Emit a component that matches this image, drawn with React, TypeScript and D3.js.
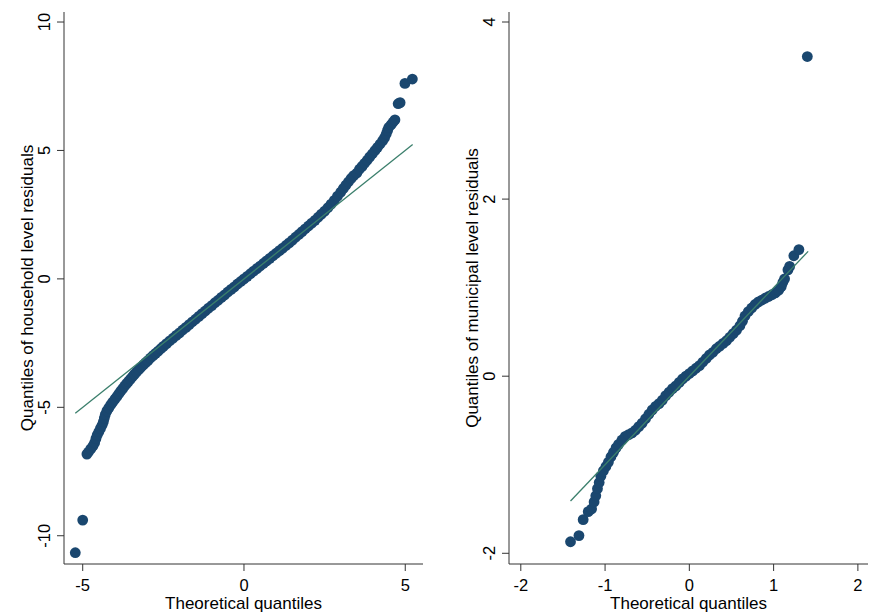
import { useRef, useEffect } from "react";
import * as d3 from "d3";

// household-level residuals: theoretical quantile vs residual quantile
const hhTheo = [
  -5.23, -5.0, -4.87, -4.82, -4.75, -4.68, -4.63, -4.59, -4.55, -4.5, -4.45, -4.4, -4.36, -4.33, -4.3,
  -4.25, -4.19, -4.13, -4.07, -4.0, -3.94, -3.88, -3.82, -3.76, -3.7, -3.64, -3.58, -3.52, -3.46, -3.4,
  -3.33, -3.26, -3.19, -3.12, -3.05, -2.98, -2.9, -2.82, -2.74, -2.66, -2.58, -2.5, -2.4, -2.3, -2.2,
  -2.1, -2.0, -1.9, -1.8, -1.7, -1.6, -1.5, -1.4, -1.3, -1.2, -1.1, -1.0, -0.9, -0.8, -0.7,
  -0.6, -0.5, -0.4, -0.3, -0.2, -0.1, 0.0, 0.1, 0.2, 0.3, 0.4, 0.5, 0.6, 0.7, 0.8,
  0.9, 1.0, 1.1, 1.2, 1.3, 1.4, 1.5, 1.6, 1.7, 1.8, 1.9, 2.0, 2.1, 2.2, 2.3,
  2.4, 2.5, 2.6, 2.7, 2.8, 2.9, 3.0, 3.08, 3.16, 3.24, 3.32, 3.4, 3.5, 3.58, 3.66,
  3.74, 3.82, 3.9, 3.98, 4.06, 4.14, 4.22, 4.3, 4.36, 4.41, 4.45, 4.49, 4.56, 4.62, 4.68,
  4.78, 4.84, 4.99, 5.22,
];
const hhResid = [
  -10.66, -9.39, -6.82, -6.74, -6.62, -6.5, -6.38, -6.22, -6.08, -5.95, -5.82, -5.7, -5.56, -5.42, -5.28,
  -5.14, -5.02, -4.9, -4.8, -4.68, -4.58, -4.47, -4.37, -4.27, -4.17, -4.08, -3.99, -3.9, -3.81, -3.72,
  -3.62, -3.53, -3.44, -3.35, -3.26, -3.18, -3.08, -2.99, -2.9, -2.81, -2.72, -2.63, -2.52, -2.41, -2.31,
  -2.2, -2.1, -1.99, -1.89, -1.78, -1.67, -1.57, -1.46, -1.35, -1.25, -1.14, -1.04, -0.93, -0.83, -0.72,
  -0.62, -0.51, -0.41, -0.31, -0.2, -0.1, 0.0, 0.1, 0.2, 0.3, 0.4, 0.5, 0.6, 0.7, 0.8,
  0.9, 1.0, 1.1, 1.2, 1.3, 1.4, 1.51, 1.62, 1.73, 1.84, 1.95, 2.06, 2.17, 2.28, 2.4,
  2.52, 2.64, 2.77, 2.91, 3.06, 3.22, 3.38, 3.52, 3.65, 3.78, 3.91, 4.02, 4.12, 4.27, 4.38,
  4.5, 4.62, 4.75, 4.87, 5.0, 5.12, 5.25, 5.38, 5.5, 5.64, 5.78, 5.9, 6.0, 6.1, 6.19,
  6.82, 6.86, 7.61, 7.78,
];

// municipal-level residuals
const muTheo = [
  -1.41, -1.31, -1.26, -1.2, -1.16, -1.13, -1.11, -1.09, -1.07, -1.05, -1.02, -0.99, -0.96, -0.93, -0.9,
  -0.87, -0.84, -0.8, -0.76, -0.72, -0.68, -0.64, -0.6, -0.56, -0.52, -0.48, -0.44, -0.4, -0.36, -0.32,
  -0.28, -0.24, -0.2, -0.16, -0.12, -0.08, -0.04, 0.0, 0.04, 0.08, 0.12, 0.16, 0.2, 0.24, 0.28,
  0.32, 0.36, 0.4, 0.44, 0.48, 0.52, 0.56, 0.6, 0.63, 0.66, 0.7, 0.74, 0.78, 0.82, 0.86,
  0.9, 0.94, 0.98, 1.02, 1.06, 1.09, 1.11, 1.13, 1.17, 1.19, 1.24, 1.3, 1.4,
];
const muResid = [
  -1.87, -1.8, -1.62, -1.53, -1.5, -1.42, -1.35, -1.27, -1.2, -1.13, -1.07, -1.02, -0.97, -0.91, -0.86,
  -0.81, -0.77, -0.72, -0.68, -0.66, -0.64, -0.61, -0.57, -0.53, -0.48, -0.43, -0.38, -0.34, -0.31, -0.27,
  -0.22, -0.18, -0.14, -0.11, -0.07, -0.03, 0.0, 0.03, 0.06, 0.09, 0.12, 0.16, 0.2, 0.24, 0.27,
  0.31, 0.34, 0.37, 0.4, 0.44, 0.48, 0.52, 0.57, 0.62, 0.68, 0.73, 0.77, 0.81, 0.84, 0.86,
  0.88, 0.9, 0.92, 0.94, 0.97, 1.01, 1.06, 1.1, 1.2, 1.24, 1.36, 1.43, 3.61,
];

const hhXTicks = [-5, 0, 5];
const hhYTicks = [-10, -5, 0, 5, 10];
const muXTicks = [-2, -1, 0, 1, 2];
const muYTicks = [-2, 0, 2, 4];

const hhRefLine = [-5.23, 5.23];
const muRefLine = [-1.41, 1.41];

const FONT = "'Liberation Sans', Arial, sans-serif";
const MARKER = "#1a476f";
const REFLINE = "#3b7f6c";

interface PanelProps {
  xs: number[];
  ys: number[];
  xDomain: [number, number];
  yDomain: [number, number];
  xTicks: number[];
  yTicks: number[];
  ref45: number[];
  left: number;
  yTitle: string;
}

const top = 12;
const bottom = 564;
const plotW = 359;

function drawPanel(g: d3.Selection<SVGGElement, unknown, null, undefined>, p: PanelProps) {
  const x = d3.scaleLinear().domain(p.xDomain).range([p.left, p.left + plotW]);
  const y = d3.scaleLinear().domain(p.yDomain).range([bottom, top]);

  const pts = p.xs.map((v, i) => [v, p.ys[i]] as [number, number]);

  g.append("g")
    .selectAll("circle")
    .data(pts)
    .enter()
    .append("circle")
    .attr("cx", (d) => x(d[0]))
    .attr("cy", (d) => y(d[1]))
    .attr("r", 5.4)
    .attr("fill", MARKER);

  // reference line y = x
  g.append("line")
    .attr("x1", x(p.ref45[0]))
    .attr("y1", y(p.ref45[0]))
    .attr("x2", x(p.ref45[1]))
    .attr("y2", y(p.ref45[1]))
    .attr("stroke", REFLINE)
    .attr("stroke-width", 1.3);

  // axes
  const ax = g.append("g").attr("stroke", "#333").attr("stroke-width", 1);
  ax.append("line").attr("x1", p.left).attr("x2", p.left).attr("y1", top).attr("y2", bottom);
  ax.append("line").attr("x1", p.left).attr("x2", p.left + plotW).attr("y1", bottom).attr("y2", bottom);

  p.yTicks.forEach((t) => {
    ax.append("line").attr("x1", p.left - 7).attr("x2", p.left).attr("y1", y(t)).attr("y2", y(t));
    g.append("text")
      .attr("transform", `translate(${p.left - 14},${y(t)}) rotate(-90)`)
      .attr("text-anchor", "middle")
      .attr("font-family", FONT)
      .attr("font-size", 16.5)
      .text(t);
  });

  p.xTicks.forEach((t) => {
    ax.append("line").attr("x1", x(t)).attr("x2", x(t)).attr("y1", bottom).attr("y2", bottom + 7);
    g.append("text")
      .attr("x", x(t))
      .attr("y", 591)
      .attr("text-anchor", "middle")
      .attr("font-family", FONT)
      .attr("font-size", 16.5)
      .text(t);
  });

  g.append("text")
    .attr("x", p.left + plotW / 2)
    .attr("y", 609)
    .attr("text-anchor", "middle")
    .attr("font-family", FONT)
    .attr("font-size", 17)
    .text("Theoretical quantiles");

  g.append("text")
    .attr("transform", `translate(${p.left - 31},${(top + bottom) / 2}) rotate(-90)`)
    .attr("text-anchor", "middle")
    .attr("font-family", FONT)
    .attr("font-size", 17)
    .text(p.yTitle);
}

export default function App() {
  const svgRef = useRef<SVGSVGElement | null>(null);

  useEffect(() => {
    if (!svgRef.current) return;
    const svg = d3.select(svgRef.current);
    svg.selectAll("*").remove();

    drawPanel(svg.append("g"), {
      xs: hhTheo,
      ys: hhResid,
      xDomain: [-5.58, 5.55],
      yDomain: [-11.1, 10.39],
      xTicks: hhXTicks,
      yTicks: hhYTicks,
      ref45: hhRefLine,
      left: 64,
      yTitle: "Quantiles of household level residuals",
    });

    drawPanel(svg.append("g"), {
      xs: muTheo,
      ys: muResid,
      xDomain: [-2.14, 2.12],
      yDomain: [-2.121, 4.113],
      xTicks: muXTicks,
      yTicks: muYTicks,
      ref45: muRefLine,
      left: 509,
      yTitle: "Quantiles of municipal level residuals",
    });
  }, []);

  return (
    <svg
      ref={svgRef}
      width={891}
      height={616}
      style={{ position: "absolute", left: 0, top: 0, background: "#fff" }}
    />
  );
}
